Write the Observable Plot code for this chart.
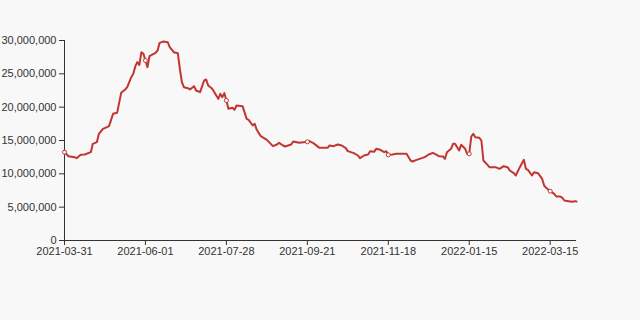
<!DOCTYPE html>
<html>
<head>
<meta charset="utf-8">
<script src="https://cdn.jsdelivr.net/npm/d3@7"></script>
<script src="https://cdn.jsdelivr.net/npm/@observablehq/plot@0.6"></script>
<style>
  html, body { margin: 0; padding: 0; background: #f8f8f8; }
  #chart { width: 640px; height: 320px; }
</style>
</head>
<body>
<div id="chart"></div>
<script>
// Category axis labels (every 40th trading day)
const tickLabels = ["2021-03-31", "2021-06-01", "2021-07-28", "2021-09-21", "2021-11-18", "2022-01-15", "2022-03-15"];
const tickIndex = [0, 40, 80, 120, 160, 200, 240];
const lastIndex = 253;

// Y axis ticks
const yTicks = [0, 5000000, 10000000, 15000000, 20000000, 25000000, 30000000];

// Series: category index and value (millions)
const seriesIndex = [
  0, 2, 5, 6, 8, 10, 13, 14, 16, 17, 19, 21, 22, 24, 26, 28, 30, 31, 33, 34,
  35, 36, 37, 38, 39, 40, 41, 42, 45, 46, 47, 49, 51, 52, 54, 56, 57, 58, 59, 61,
  62, 64, 65, 67, 69, 70, 71, 73, 75, 76, 77, 78, 79, 80, 81, 83, 84, 85, 88, 90,
  91, 93, 94, 95, 97, 100, 103, 105, 106, 108, 109, 112, 113, 116, 118, 120, 121, 123, 126, 130,
  131, 133, 135, 137, 139, 140, 143, 145, 146, 148, 150, 151, 153, 154, 156, 158, 159, 160, 162, 164,
  167, 169, 171, 172, 174, 177, 178, 180, 182, 183, 185, 187, 188, 189, 191, 192, 193, 195, 196, 198,
  199, 200, 201, 202, 203, 205, 206, 207, 209, 210, 213, 215, 217, 219, 220, 222, 223, 225, 227, 228,
  229, 231, 232, 234, 236, 237, 238, 240, 242, 243, 245, 246, 247, 249, 251, 252, 253
];
const seriesValueM = [
  13.25, 12.65, 12.5, 12.35, 12.85, 12.9, 13.25, 14.5, 14.75, 16.0, 16.75, 17.0, 17.15, 19.0, 19.15, 22.15, 22.65, 23.0, 24.5, 25.0,
  26.15, 26.75, 26.35, 28.25, 28.0, 27.0, 26.0, 27.65, 28.15, 28.5, 29.65, 29.85, 29.75, 29.0, 28.25, 28.1, 25.75, 23.75, 23.0, 22.85,
  22.65, 23.15, 22.5, 22.25, 24.0, 24.15, 23.25, 22.75, 21.75, 21.25, 22.0, 21.5, 22.1, 21.0, 19.75, 19.9, 19.6, 20.25, 20.15, 18.25,
  18.1, 17.25, 17.5, 16.6, 15.65, 15.1, 14.15, 14.4, 14.65, 14.25, 14.1, 14.4, 14.85, 14.65, 14.75, 14.8, 14.9, 14.6, 13.9, 13.9,
  14.25, 14.15, 14.4, 14.25, 13.85, 13.4, 13.1, 12.75, 12.35, 12.75, 12.9, 13.4, 13.3, 13.75, 13.6, 13.25, 13.4, 12.85, 12.9, 13.0,
  13.0, 13.0, 12.0, 11.85, 12.1, 12.4, 12.5, 12.9, 13.15, 13.0, 12.65, 12.6, 12.25, 13.25, 13.75, 14.5, 14.5, 13.5, 14.35, 13.75,
  13.0, 13.0, 15.6, 16.0, 15.5, 15.4, 15.0, 12.0, 11.35, 11.0, 11.0, 10.75, 11.15, 11.0, 10.5, 10.1, 9.75, 11.0, 12.1, 10.75,
  10.6, 9.75, 10.25, 10.1, 9.25, 8.25, 7.9, 7.4, 7.0, 6.6, 6.6, 6.4, 6.0, 5.9, 5.8, 5.9, 5.85
];

const data = seriesIndex.map((i, k) => ({ i, v: seriesValueM[k] * 1e6 }));
const markers = data.filter(d => tickIndex.includes(d.i));

const lineColor = "#c23531";
const axisColor = "#333";

const chart = Plot.plot({
  width: 640,
  height: 320,
  marginTop: 40,
  marginBottom: 80,
  marginLeft: 64,
  marginRight: 64,
  style: { background: "#f8f8f8", fontFamily: "'Liberation Sans', Arial, sans-serif", fontSize: "11px", color: "#333" },
  x: { domain: [0, lastIndex] },
  y: { domain: [0, 30000000] },
  marks: [
    Plot.axisY({ ticks: yTicks, tickFormat: d3.format(","), tickSize: 5, tickPadding: 3, label: null, stroke: axisColor, fill: "#333" }),
    Plot.axisX({ ticks: tickIndex, tickFormat: d => tickLabels[tickIndex.indexOf(d)], tickSize: 5, tickPadding: 2, label: null, stroke: axisColor, fill: "#333" }),
    Plot.ruleX([0], { stroke: axisColor }),
    Plot.ruleY([0], { stroke: axisColor }),
    Plot.line(data, { x: "i", y: "v", stroke: lineColor, strokeWidth: 2 }),
    Plot.dot(markers, { x: "i", y: "v", r: 2, fill: "#fff", stroke: lineColor, strokeWidth: 1 })
  ]
});
document.getElementById("chart").appendChild(chart);
</script>
</body>
</html>
